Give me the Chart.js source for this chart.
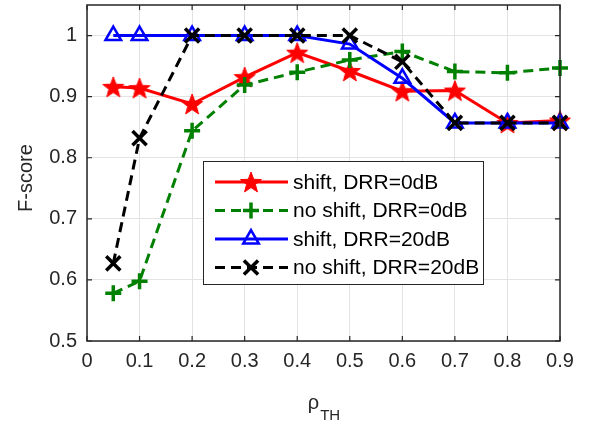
<!DOCTYPE html>
<html>
<head>
<meta charset="utf-8">
<script src="https://cdn.jsdelivr.net/npm/chart.js@4.4.1/dist/chart.umd.min.js"></script>
<style>
  html, body { margin: 0; padding: 0; background: #ffffff; }
  #wrap { width: 592px; height: 426px; position: relative; }
</style>
</head>
<body>
<div id="wrap"><canvas id="c" width="592" height="426"></canvas></div>
<script>
// ---- data ----
const rhoTH = [0.05, 0.1, 0.2, 0.3, 0.4, 0.5, 0.6, 0.7, 0.8, 0.9];
const shift0dB   = [0.916, 0.914, 0.888, 0.932, 0.972, 0.942, 0.909, 0.910, 0.857, 0.861];
const noShift0dB = [0.578, 0.598, 0.844, 0.919, 0.940, 0.960, 0.974, 0.941, 0.939, 0.947];
const shift20dB  = [1.000, 1.000, 1.000, 1.000, 1.000, 0.986, 0.930, 0.857, 0.857, 0.857];
const noShift20dB= [0.627, 0.832, 1.000, 1.000, 1.000, 1.000, 0.957, 0.857, 0.857, 0.857];
const seriesNames = ['shift, DRR=0dB', 'no shift, DRR=0dB', 'shift, DRR=20dB', 'no shift, DRR=20dB'];
const xTicks = [0, 0.1, 0.2, 0.3, 0.4, 0.5, 0.6, 0.7, 0.8, 0.9];
const yTicks = [0.5, 0.6, 0.7, 0.8, 0.9, 1];
const xLabel = 'ρ';
const xLabelSub = 'TH';
const yLabel = 'F-score';

const FONT = '"Liberation Sans", Arial, Helvetica, sans-serif';
const AXC = '#262626';

function starCanvas(r, color) {
  const s = Math.ceil(r * 2 + 4);
  const cv = document.createElement('canvas');
  cv.width = s; cv.height = s;
  const g = cv.getContext('2d');
  g.translate(s / 2, s / 2 + 1);
  g.beginPath();
  for (let i = 0; i < 10; i++) {
    const rr = i % 2 === 0 ? r : r * 0.42;
    const a = -Math.PI / 2 + i * Math.PI / 5;
    const px = rr * Math.cos(a), py = rr * Math.sin(a);
    if (i === 0) g.moveTo(px, py); else g.lineTo(px, py);
  }
  g.closePath();
  g.fillStyle = color; g.fill();
  g.lineWidth = 1; g.strokeStyle = color; g.stroke();
  return cv;
}
const starImg = starCanvas(11, '#ff0000');

const styles = [
  { color: '#ff0000', dash: [], point: starImg, radius: 11, pw: 1, order: 3 },
  { color: '#008000', dash: [10, 6], point: 'cross', radius: 8, pw: 3.5, order: 2 },
  { color: '#0000ff', dash: [], point: 'triangle', radius: 9, pw: 2.5, order: 1 },
  { color: '#000000', dash: [10, 6], point: 'crossRot', radius: 10, pw: 3.5, order: 0 }
];
const allSeries = [shift0dB, noShift0dB, shift20dB, noShift20dB];

const datasets = allSeries.map((vals, i) => ({
  label: seriesNames[i],
  data: rhoTH.map((x, j) => ({ x: x, y: vals[j] })),
  borderColor: styles[i].color,
  backgroundColor: 'rgba(0,0,0,0)',
  borderWidth: 3,
  borderDash: styles[i].dash,
  pointStyle: styles[i].point,
  pointRadius: styles[i].radius,
  pointHoverRadius: styles[i].radius,
  pointBorderColor: styles[i].color,
  pointBackgroundColor: 'rgba(0,0,0,0)',
  pointBorderWidth: styles[i].pw,
  tension: 0,
  clip: false,
  order: styles[i].order
}));

function drawMarker(ctx, st, x, y) {
  if (st.point === starImg) {
    ctx.drawImage(starImg, x - starImg.width / 2, y - starImg.height / 2);
    return;
  }
  ctx.save();
  ctx.strokeStyle = st.color;
  ctx.lineWidth = st.pw;
  ctx.setLineDash([]);
  ctx.beginPath();
  const r = st.radius;
  if (st.point === 'cross') {
    ctx.moveTo(x - r, y); ctx.lineTo(x + r, y);
    ctx.moveTo(x, y - r); ctx.lineTo(x, y + r);
  } else if (st.point === 'crossRot') {
    const d = r * Math.SQRT1_2;
    ctx.moveTo(x - d, y - d); ctx.lineTo(x + d, y + d);
    ctx.moveTo(x - d, y + d); ctx.lineTo(x + d, y - d);
  } else if (st.point === 'triangle') {
    ctx.moveTo(x, y - r);
    ctx.lineTo(x + Math.sin(2 * Math.PI / 3) * r, y - Math.cos(2 * Math.PI / 3) * r);
    ctx.lineTo(x + Math.sin(4 * Math.PI / 3) * r, y - Math.cos(4 * Math.PI / 3) * r);
    ctx.closePath();
  }
  ctx.stroke();
  ctx.restore();
}

const decor = {
  id: 'decor',
  afterDatasetsDraw(chart) {
    const ctx = chart.ctx;
    const a = chart.chartArea;
    const xs = chart.scales.x, ys = chart.scales.y;
    ctx.save();
    // box
    ctx.strokeStyle = AXC;
    ctx.lineWidth = 1.5;
    ctx.strokeRect(a.left, a.top, a.right - a.left, a.bottom - a.top);
    // inward ticks
    ctx.lineWidth = 1.2;
    ctx.beginPath();
    xTicks.forEach(v => {
      const px = xs.getPixelForValue(v);
      ctx.moveTo(px, a.bottom); ctx.lineTo(px, a.bottom - 5);
      ctx.moveTo(px, a.top); ctx.lineTo(px, a.top + 5);
    });
    yTicks.forEach(v => {
      const py = ys.getPixelForValue(v);
      ctx.moveTo(a.left, py); ctx.lineTo(a.left + 5, py);
      ctx.moveTo(a.right, py); ctx.lineTo(a.right - 5, py);
    });
    ctx.stroke();

    // axis titles
    ctx.fillStyle = AXC;
    ctx.textBaseline = 'alphabetic';
    ctx.font = '20px ' + FONT;
    const wr = ctx.measureText(xLabel).width;
    ctx.font = '15px ' + FONT;
    const ws = ctx.measureText(xLabelSub).width;
    const cx = (a.left + a.right) / 2;
    const x0 = cx - (wr + ws) / 2;
    ctx.font = '20px ' + FONT;
    ctx.textAlign = 'left';
    ctx.fillText(xLabel, x0, 409);
    ctx.font = '15px ' + FONT;
    ctx.fillText(xLabelSub, x0 + wr + 1, 420);

    ctx.save();
    ctx.translate(32, (a.top + a.bottom) / 2 + 5);
    ctx.rotate(-Math.PI / 2);
    ctx.font = '20px ' + FONT;
    ctx.textAlign = 'center';
    ctx.fillText(yLabel, 0, 0);
    ctx.restore();

    // legend
    const L = { x: 203, y: 161, w: 280, h: 123 };
    ctx.fillStyle = '#ffffff';
    ctx.fillRect(L.x, L.y, L.w, L.h);
    ctx.strokeStyle = AXC;
    ctx.lineWidth = 1;
    ctx.strokeRect(L.x + 0.5, L.y + 0.5, L.w, L.h);
    const rowY = [182, 210.5, 239, 267.5];
    const lx1 = 215, lx2 = 288, mx = 251;
    styles.forEach((st, i) => {
      const y = rowY[i];
      ctx.strokeStyle = st.color;
      ctx.lineWidth = 3;
      ctx.setLineDash(st.dash);
      ctx.beginPath(); ctx.moveTo(lx1, y); ctx.lineTo(lx2, y); ctx.stroke();
      ctx.setLineDash([]);
      drawMarker(ctx, st, mx, y);
      ctx.fillStyle = '#000000';
      ctx.font = '21px ' + FONT;
      ctx.textAlign = 'left';
      ctx.textBaseline = 'middle';
      ctx.fillText(seriesNames[i], 293, y + 1);
    });
    ctx.restore();
  }
};

new Chart(document.getElementById('c'), {
  type: 'line',
  data: { datasets: datasets },
  plugins: [decor],
  options: {
    responsive: false,
    devicePixelRatio: 1,
    animation: false,
    events: [],
    layout: { autoPadding: false, padding: { left: 0, right: 32, top: 5, bottom: 0 } },
    plugins: { legend: { display: false }, tooltip: { enabled: false } },
    scales: {
      x: {
        type: 'linear',
        min: 0, max: 0.9,
        afterBuildTicks: s => { s.ticks = xTicks.map(v => ({ value: v })); },
        afterFit: s => { s.height = 85; s.paddingLeft = 0; s.paddingRight = 0; },
        grid: { color: '#e3e3e3', lineWidth: 1, drawTicks: false },
        border: { display: false },
        ticks: {
          color: AXC, padding: 8, maxRotation: 0, autoSkip: false,
          font: { family: FONT, size: 20 },
          callback: v => String(Math.round(v * 10) / 10)
        }
      },
      y: {
        type: 'linear',
        min: 0.5, max: 1.05,
        afterBuildTicks: s => { s.ticks = yTicks.map(v => ({ value: v })); },
        afterFit: s => { s.width = 87; s.paddingTop = 0; s.paddingBottom = 0; },
        grid: { color: '#e3e3e3', lineWidth: 1, drawTicks: false },
        border: { display: false },
        ticks: {
          color: AXC, padding: 10, autoSkip: false,
          font: { family: FONT, size: 20 },
          callback: v => String(Math.round(v * 10) / 10)
        }
      }
    }
  }
});
</script>
</body>
</html>
